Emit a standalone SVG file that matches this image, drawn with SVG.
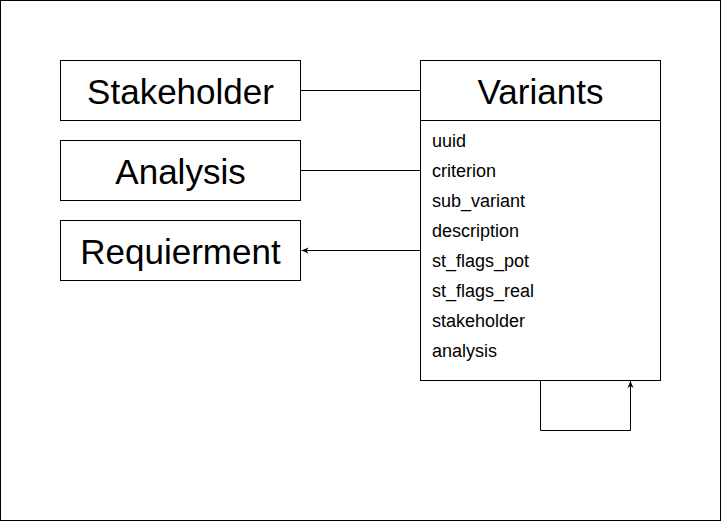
<svg xmlns="http://www.w3.org/2000/svg" width="721" height="521" viewBox="0 0 721 521">
<style>
.box{fill:#fff;stroke:#000;stroke-width:1}
.t{font-family:"Liberation Sans",Arial,sans-serif;font-size:35px;fill:#000;text-anchor:middle;dominant-baseline:central}
.f{font-family:"Liberation Sans",Arial,sans-serif;font-size:18px;fill:#000;dominant-baseline:central}
.c{fill:none;stroke:#000;stroke-width:1}
</style>
<defs>
<marker id="ah" viewBox="0 0 8 8" refX="7" refY="4" markerWidth="8" markerHeight="8" markerUnits="userSpaceOnUse" orient="auto">
<path d="M0,1 L7,4 L0,7 L2,4 Z" fill="#000"/>
</marker>
</defs>
<rect x="0.5" y="0.5" width="720" height="520" fill="#fff" stroke="#000"/>
<g id="connectors">
<path class="c" d="M300.5,90.5 H420.5"/>
<path class="c" d="M300.5,170.5 H420.5"/>
<path class="c" d="M420.5,250.5 H301.5" marker-end="url(#ah)"/>
<path class="c" d="M540.5,380.5 V430.5 H630.5 V381" marker-end="url(#ah)"/>
</g>
<g id="stakeholder">
<rect class="box" x="60.5" y="60.5" width="240" height="60"/>
<text class="t" x="180.5" y="91">Stakeholder</text>
</g>
<g id="analysis">
<rect class="box" x="60.5" y="140.5" width="240" height="60"/>
<text class="t" x="180.5" y="171">Analysis</text>
</g>
<g id="requierment">
<rect class="box" x="60.5" y="220.5" width="240" height="60"/>
<text class="t" x="180.5" y="251">Requierment</text>
</g>
<g id="variants">
<rect class="box" x="420.5" y="60.5" width="240" height="320"/>
<path class="c" d="M420.5,120.5 H660.5"/>
<text class="t" x="540.5" y="91">Variants</text>
<text class="f" x="432" y="141">uuid</text>
<text class="f" x="432" y="171">criterion</text>
<text class="f" x="432" y="201">sub_variant</text>
<text class="f" x="432" y="231">description</text>
<text class="f" x="432" y="261">st_flags_pot</text>
<text class="f" x="432" y="291">st_flags_real</text>
<text class="f" x="432" y="321">stakeholder</text>
<text class="f" x="432" y="351">analysis</text>
</g>
</svg>
